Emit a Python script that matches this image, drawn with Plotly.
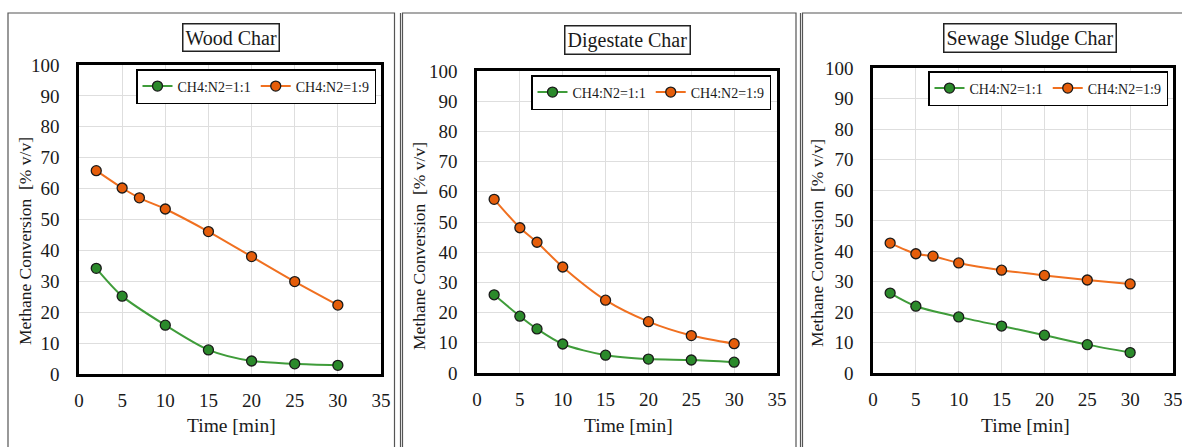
import plotly.graph_objects as go

W, H = 1182, 447

# ---------------- data ----------------
panel_titles = ["Wood Char", "Digestate Char", "Sewage Sludge Char"]
series_names = ["CH4:N2=1:1", "CH4:N2=1:9"]

wood_x_11 = [2, 5, 10, 15, 20, 25, 30]
wood_y_11 = [34.2, 25.2, 15.8, 7.8, 4.2, 3.3, 2.8]
wood_x_19 = [2, 5, 7, 10, 15, 20, 25, 30]
wood_y_19 = [65.8, 60.2, 57.0, 53.4, 46.1, 38.0, 29.9, 22.3]

dig_x_11 = [2, 5, 7, 10, 15, 20, 25, 30]
dig_y_11 = [25.9, 18.8, 14.6, 9.6, 5.9, 4.6, 4.3, 3.6]
dig_x_19 = [2, 5, 7, 10, 15, 20, 25, 30]
dig_y_19 = [57.5, 48.1, 43.3, 35.1, 24.1, 17.0, 12.4, 9.7]

sew_x_11 = [2, 5, 10, 15, 20, 25, 30]
sew_y_11 = [26.2, 21.9, 18.4, 15.4, 12.4, 9.3, 6.7]
sew_x_19 = [2, 5, 7, 10, 15, 20, 25, 30]
sew_y_19 = [42.6, 39.1, 38.3, 36.1, 33.7, 32.0, 30.5, 29.2]

x_ticks = [0, 5, 10, 15, 20, 25, 30, 35]
y_ticks = [0, 10, 20, 30, 40, 50, 60, 70, 80, 90, 100]

panels = [
    (wood_x_11, wood_y_11, wood_x_19, wood_y_19),
    (dig_x_11, dig_y_11, dig_x_19, dig_y_19),
    (sew_x_11, sew_y_11, sew_x_19, sew_y_19),
]

# ---------------- styles ----------------
FONT = "Liberation Serif"
TXT = "#1a1a1a"
GREEN_LINE, GREEN_MK = "#3f9c3a", "#2b8a2b"
ORANGE_LINE, ORANGE_MK = "#f07020", "#e55d0a"

# plot areas in pixels: (left, right, top, bottom)
areas = [(79, 381, 65, 374), (477, 777, 71, 373), (873, 1173, 68, 373)]
legend_pos = [(376, 69), (771, 75), (1168, 71)]
title_pos = [(231, 38), (627, 39.5), (1030, 38)]
ytitle_pos = [(25, 241), (419, 246), (817, 243)]
xtitle_pos = [(232, 425), (628, 425), (1025, 425)]

def px(x):
    return x / W

def py(y):
    return 1 - y / H

fig = go.Figure()
shapes = []
annotations = []

for i, (x11, y11, x19, y19) in enumerate(panels):
    n = "" if i == 0 else str(i + 1)
    lg = "legend" if i == 0 else "legend" + str(i + 1)
    xa, ya = "x" + n, "y" + n
    for xs, ys, name, lc, mc in [(x11, y11, series_names[0], GREEN_LINE, GREEN_MK),
                                  (x19, y19, series_names[1], ORANGE_LINE, ORANGE_MK)]:
        fig.add_trace(go.Scatter(
            x=xs, y=ys, name=name, mode="lines+markers",
            xaxis=xa, yaxis=ya, legend=lg,
            line=dict(color=lc, width=2, shape="spline", smoothing=0.8),
            marker=dict(color=mc, size=10, line=dict(color="#1a1a1a", width=1.3)),
        ))
    l, r, t, b = areas[i]
    axis_common = dict(showline=True, linecolor="black", linewidth=2.5, mirror=True,
                       showgrid=True, gridcolor="#dedede", gridwidth=1, zeroline=False,
                       automargin=False, ticklabeloverflow="allow",
                       ticks="", tickfont=dict(family=FONT, size=19, color=TXT))
    fig.layout["xaxis" + n] = dict(domain=[px(l), px(r)], anchor=ya, range=[0, 35],
                                   tickvals=x_ticks, ticklabelstandoff=7, **axis_common)
    fig.layout["yaxis" + n] = dict(domain=[py(b), py(t)], anchor=xa, range=[0, 100],
                                   tickvals=y_ticks, ticklabelstandoff=13, **axis_common)
    lx, ly = legend_pos[i]
    fig.layout[lg] = dict(x=px(lx), y=py(ly), xanchor="right", yanchor="top",
                          orientation="h", bgcolor="white", bordercolor="black",
                          borderwidth=1.5, font=dict(family=FONT, size=14, color=TXT),
                          itemwidth=30, tracegroupgap=0)
    tx, ty = title_pos[i]
    annotations.append(dict(text=panel_titles[i], x=px(tx), y=py(ty), xref="paper", yref="paper",
                            showarrow=False, xanchor="center", yanchor="middle",
                            font=dict(family=FONT, size=20, color=TXT),
                            bordercolor="#222", borderwidth=1.5, borderpad=2, bgcolor="white"))
    yx, yy = ytitle_pos[i]
    annotations.append(dict(text="Methane Conversion  [% v/v]", x=px(yx), y=py(yy),
                            xref="paper", yref="paper", showarrow=False, textangle=-90,
                            xanchor="center", yanchor="middle",
                            font=dict(family=FONT, size=17.5, color=TXT)))
    xx, xy = xtitle_pos[i]
    annotations.append(dict(text="Time [min]", x=px(xx), y=py(xy), xref="paper", yref="paper",
                            showarrow=False, xanchor="center", yanchor="middle",
                            font=dict(family=FONT, size=19.5, color=TXT)))

# panel frames
for (x0, x1) in [(8, 394.5), (402.5, 796), (802.5, 1200)]:
    shapes.append(dict(type="rect", xref="paper", yref="paper",
                       x0=px(x0), x1=px(x1), y0=py(460), y1=py(13),
                       line=dict(color="#555555", width=1.2), layer="below"))
for xv in [400.5, 800.5]:
    shapes.append(dict(type="line", xref="paper", yref="paper",
                       x0=px(xv), x1=px(xv), y0=py(460), y1=py(13),
                       line=dict(color="#555555", width=1.2)))

fig.update_layout(template="none", width=W, height=H,
                  margin=dict(l=0, r=0, t=0, b=0, pad=0, autoexpand=False),
                  paper_bgcolor="white", plot_bgcolor="white",
                  shapes=shapes, annotations=annotations, showlegend=True)

fig.write_html("out.html")
